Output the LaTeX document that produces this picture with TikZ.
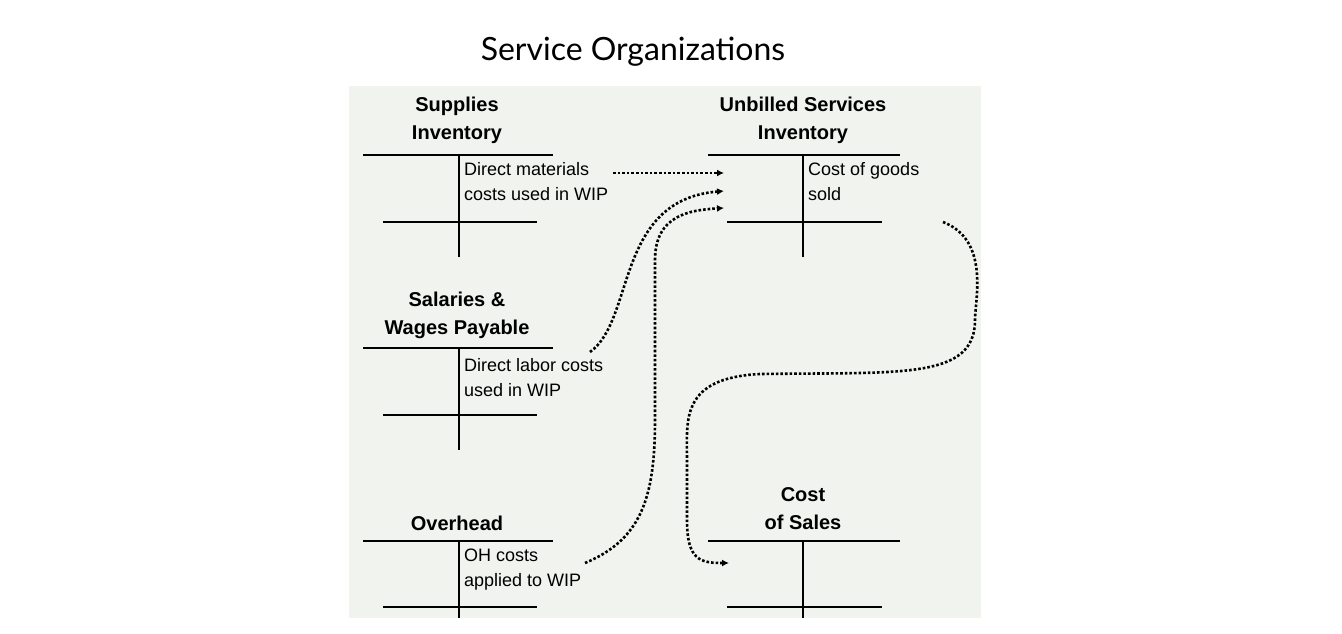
\documentclass[tikz,border=0pt]{standalone}
\usepackage{fontspec}
\setmainfont{Liberation Sans}
\newfontfamily\titlefont{Lato}
\usetikzlibrary{arrows.meta}
\begin{document}
\begin{tikzpicture}[x=1pt,y=-1pt,
  tline/.style={line width=2.2pt,black},
  ttitle/.style={font=\fontsize{20}{28}\selectfont\bfseries,align=center,inner sep=0pt},
  ttext/.style={font=\fontsize{18}{25}\selectfont,align=left,anchor=north west,inner sep=0pt},
  flow/.style={line width=2.6pt,dotted,-{Latex[length=7pt,width=7pt]}}]
\useasboundingbox (0,0) rectangle (1342,633);
\fill[fill={rgb,255:red,241;green,243;blue,238}] (349,86) rectangle (981,618);
\node[font=\titlefont\fontsize{32}{36}\selectfont] (title) at (633,52) {Service Organizations};
% Supplies Inventory
\node[ttitle] (sup) at (457,120) {Supplies\\Inventory};
\draw[tline] (363,155) -- (553,155) (383,222) -- (537,222) (459,155) -- (459,257);
\node[ttext] (dm) at (464,162) {Direct materials\\costs used in WIP};
% Unbilled
\node[ttitle] (unb) at (803,120) {Unbilled Services\\Inventory};
\draw[tline] (708,155) -- (900,155) (727,222) -- (882,222) (803,155) -- (803,257);
\node[ttext] (cogs) at (808,162) {Cost of goods\\sold};
% Salaries
\node[ttitle] (sal) at (457,315) {Salaries \&\\Wages Payable};
\draw[tline] (363,348) -- (553,348) (383,415) -- (537,415) (459,348) -- (459,450);
\node[ttext] (dl) at (464,358) {Direct labor costs\\used in WIP};
% Overhead
\node[ttitle] (oh) at (457,523) {Overhead};
\draw[tline] (363,541) -- (553,541) (383,607) -- (537,607) (459,541) -- (459,618);
\node[ttext] (ohc) at (464,549) {OH costs\\applied to WIP};
% Cost of Sales
\node[ttitle] (cos) at (803,509) {Cost\\of Sales};
\draw[tline] (708,541) -- (900,541) (727,607) -- (882,607) (803,541) -- (803,618);
% coordinates
\coordinate (a1s) at (613,173); \coordinate (a1e) at (724,173);
\coordinate (a2s) at (590,352); \coordinate (a2e) at (724,191);
\coordinate (a3s) at (585,563); \coordinate (a3e) at (724,208);
\coordinate (a4s) at (943,222); \coordinate (a4e) at (729,563);
\draw[flow] (a1s) -- (a1e);
\draw[flow] (a2s) .. controls (635,320) and (615,200) .. (a2e);
\draw[flow] (a3s) .. controls (640,540) and (655,500) .. (655,420) -- (655,260) .. controls (655,215) and (690,210) .. (a3e);
\draw[flow] (a4s) .. controls (990,240) and (975,300) .. (975,320) .. controls (975,380) and (900,372) .. (760,374) .. controls (680,378) and (687,420) .. (687,460) -- (687,520) .. controls (687,560) and (700,563) .. (a4e);
\end{tikzpicture}
\end{document}
